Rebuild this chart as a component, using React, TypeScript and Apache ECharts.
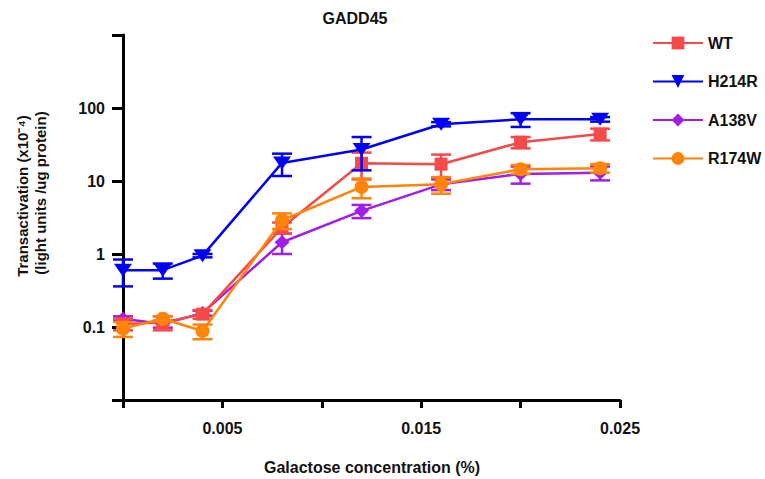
import React, { useEffect, useRef } from "react";
import * as echarts from "echarts";

const FONT = "Liberation Sans, Arial, Helvetica, sans-serif";

const concentrations = [0, 0.002, 0.004, 0.008, 0.012, 0.016, 0.02, 0.024];

const wtValues = [0.11, 0.115, 0.15, 2.3, 17.5, 17, 34, 44];
const wtErrors = [0.02, 0.025, 0.02, 0.4, 7, 6, 6, 8];

const h214rValues = [0.6, 0.6, 0.95, 17.7, 27, 60, 70, 70];
const h214rErrors = [0.24, 0.14, 0.05, 6, 13, 4, 15, 5];

const a138vValues = [0.13, 0.11, 0.155, 1.45, 3.9, 9, 12.5, 13];
const a138vErrors = [0.01, 0.012, 0.012, 0.45, 0.8, 1.5, 3.3, 2.8];

const r174wValues = [0.095, 0.13, 0.088, 2.9, 8.3, 9, 14.5, 15];
const r174wErrors = [0.022, 0.01, 0.02, 0.7, 2.5, 2.3, 2, 2];

const yTickLabels: Record<number, string> = { [-1]: "0.1", 0: "1", 1: "10", 2: "100" };
const xTickLabels = ["", "0.005", "", "0.015", "", "0.025"];

const groups = [
  { name: "WT", values: wtValues, errors: wtErrors, color: "#F44A4A", symbol: "rect", size: 13, z: 3 },
  { name: "H214R", values: h214rValues, errors: h214rErrors, color: "#0000F5", symbol: "path://M0,0 L20,0 L10,13 Z", size: [18, 13], z: 5 },
  { name: "A138V", values: a138vValues, errors: a138vErrors, color: "#A01EE6", symbol: "diamond", size: [15, 14], z: 2 },
  { name: "R174W", values: r174wValues, errors: r174wErrors, color: "#FF8409", symbol: "circle", size: 14, z: 4 },
];

export default function App() {
  const ref = useRef<HTMLDivElement>(null);
  useEffect(() => {
    if (!ref.current) return;
    const chart = echarts.init(ref.current, null, { renderer: "svg" });
    const series: any[] = [];
    groups.forEach((g) => {
      series.push({
        name: g.name + " SD",
        type: "custom",
        z: g.z,
        encode: { x: 0, y: [1, 2] },
        data: concentrations.map((x, i) => [x, g.values[i] - g.errors[i], g.values[i] + g.errors[i]]),
        renderItem: (params: any, api: any) => {
          const x = api.value(0);
          const lo = api.coord([x, api.value(1)]);
          const hi = api.coord([x, api.value(2)]);
          const half = 10;
          const style = { stroke: g.color, lineWidth: 2.5, fill: "none" };
          return {
            type: "group",
            children: [
              { type: "line", shape: { x1: lo[0], y1: lo[1], x2: hi[0], y2: hi[1] }, style },
              { type: "line", shape: { x1: lo[0] - half, y1: lo[1], x2: lo[0] + half, y2: lo[1] }, style },
              { type: "line", shape: { x1: hi[0] - half, y1: hi[1], x2: hi[0] + half, y2: hi[1] }, style },
            ],
          };
        },
      });
      series.push({
        name: g.name,
        type: "line",
        z: g.z,
        data: concentrations.map((x, i) => [x, g.values[i]]),
        symbol: g.symbol,
        symbolSize: g.size,
        showAllSymbol: true,
        lineStyle: { color: g.color, width: 2.5 },
        itemStyle: { color: g.color, borderWidth: 0 },
        emphasis: { disabled: true },
      });
    });

    chart.setOption({
      animation: false,
      backgroundColor: "#ffffff",
      textStyle: { fontFamily: FONT },
      grid: { left: 123, right: 145, top: 35, bottom: 79, containLabel: false },
      legend: {
        data: groups.map((g) => g.name),
        orient: "vertical",
        left: 647,
        top: 30,
        itemWidth: 50,
        itemHeight: 16,
        itemGap: 22.5,
        selectedMode: false,
        textStyle: { fontFamily: FONT, fontWeight: "bold", fontSize: 16, color: "#111" },
      },
      xAxis: {
        type: "value",
        min: 0,
        max: 0.025,
        interval: 0.005,
        axisLine: { onZero: false, lineStyle: { color: "#000", width: 3 } },
        axisTick: { show: true, length: 8, lineStyle: { color: "#000", width: 3 } },
        splitLine: { show: false },
        axisLabel: {
          color: "#111",
          fontWeight: "bold",
          fontSize: 16,
          fontFamily: FONT,
          margin: 20,
          showMinLabel: true,
          showMaxLabel: true,
          formatter: (v: number) => xTickLabels[Math.round(v / 0.005)] || "",
        },
      },
      yAxis: {
        type: "log",
        logBase: 10,
        min: 0.01,
        max: 1000,
        splitNumber: 5,
        axisLine: { show: true, lineStyle: { color: "#000", width: 3 } },
        axisTick: { show: true, length: 11, lineStyle: { color: "#000", width: 3 } },
        splitLine: { show: false },
        axisLabel: {
          color: "#111",
          fontWeight: "bold",
          fontSize: 16,
          fontFamily: FONT,
          margin: 18,
          showMinLabel: true,
          showMaxLabel: true,
          formatter: (v: number) => yTickLabels[Math.round(Math.log10(v))] ?? "",
        },
      },
      graphic: [
        {
          type: "text",
          x: 355,
          y: 18,
          style: { text: "GADD45", font: `bold 16px ${FONT}`, fill: "#111", align: "center", verticalAlign: "middle" },
        },
        {
          type: "text",
          x: 372,
          y: 467,
          style: { text: "Galactose concentration (%)", font: `bold 16px ${FONT}`, fill: "#111", align: "center", verticalAlign: "middle" },
        },
        {
          type: "text",
          x: 22,
          y: 196,
          rotation: Math.PI / 2,
          style: { text: "Transactivation (x10\u207B\u2074)", font: `bold 15px ${FONT}`, fill: "#111", align: "center", verticalAlign: "middle" },
        },
        {
          type: "text",
          x: 40,
          y: 193,
          rotation: Math.PI / 2,
          style: { text: "(light units /ug protein)", font: `bold 15px ${FONT}`, fill: "#111", align: "center", verticalAlign: "middle" },
        },
      ],
      series,
    });
    return () => chart.dispose();
  }, []);
  return <div ref={ref} style={{ position: "fixed", left: 0, top: 0, width: 765, height: 479 }} />;
}
